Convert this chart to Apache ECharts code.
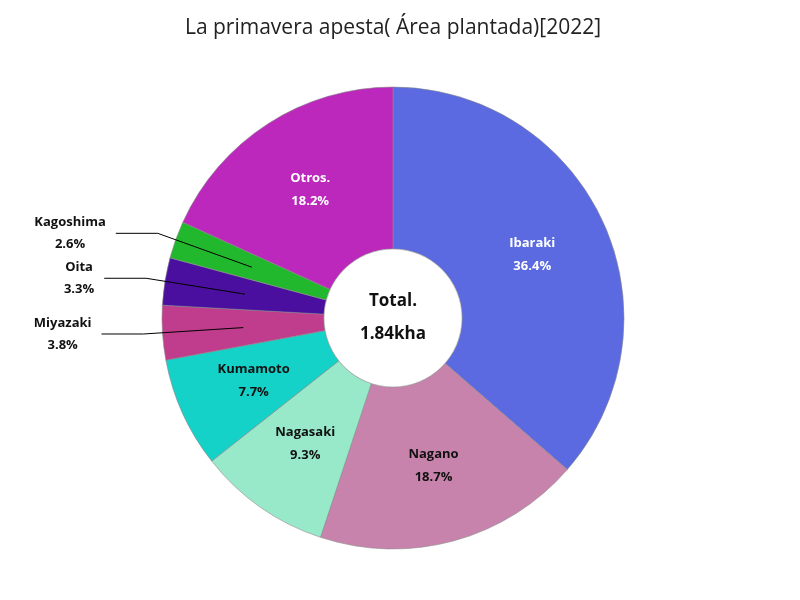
<!DOCTYPE html>
<html>
<head>
<meta charset="utf-8">
<script src="https://cdn.jsdelivr.net/npm/echarts@6/dist/echarts.min.js"></script>
<style>
  html, body { margin: 0; padding: 0; background: #fff; }
  #chart { width: 800px; height: 600px; }
</style>
</head>
<body>
<div id="chart"></div>
<script>
// Área plantada 2022 (ha): total ≈ 1.84 kha
const regions = ['Ibaraki', 'Nagano', 'Nagasaki', 'Kumamoto', 'Miyazaki', 'Oita', 'Kagoshima', 'Otros.'];
const areaHa  = [670, 344, 171, 142, 70, 61, 48, 335];
const colors  = ['#5b6ae0', '#c883ac', '#97e9c9', '#14d2c8', '#c03c8c', '#4b0fa0', '#22b82e', '#bb28bb'];
const whiteLabel = ['Ibaraki', 'Otros.'];
const outsideLabel = ['Miyazaki', 'Oita', 'Kagoshima'];

const FONT = '"Open Sans", "Noto Sans", sans-serif';
const total = areaHa.reduce((a, b) => a + b, 0);
const pct = v => (v / total * 100).toFixed(1) + '%';

const chart = echarts.init(document.getElementById('chart'), null, { renderer: 'canvas' });

// ── 主扇区 (inner labels) ─────────────────────────
const mainData = regions.map((name, i) => ({
  name,
  value: areaHa[i],
  itemStyle: { color: colors[i] },
  label: {
    show: !outsideLabel.includes(name),
    color: whiteLabel.includes(name) ? '#ffffff' : '#111111',
  },
}));

// ── 外部ラベル用の透明な扇 (line starts at mid radius) ──
const ghostData = regions.map((name, i) => ({
  name,
  value: areaHa[i],
  itemStyle: { color: 'rgba(0,0,0,0)', borderWidth: 0 },
  label: { show: outsideLabel.includes(name) },
  labelLine: { show: outsideLabel.includes(name) },
}));

const labelText = p => `{t|${p.name}}\n{t|${pct(p.value)}}`;

chart.setOption({
  backgroundColor: '#ffffff',
  animation: false,
  title: {
    text: 'La primavera apesta( Área plantada)[2022]',
    left: 388,
    top: 13,
    textAlign: 'center',
    textStyle: { fontFamily: FONT, fontSize: 21, fontWeight: 'normal', color: '#222' },
  },
  series: [
    {
      type: 'pie',
      center: [393, 318],
      radius: ['23%', '77%'],
      startAngle: 90,
      clockwise: true,
      silent: true,
      itemStyle: { borderColor: '#8a8a8a', borderWidth: 0.6 },
      label: {
        position: 'inside',
        formatter: labelText,
        fontFamily: FONT,
        fontSize: 13,
        fontWeight: 'bold',
        lineHeight: 23,
        rich: { t: { align: 'center', fontFamily: FONT, fontSize: 13, fontWeight: 'bold', lineHeight: 23 } },
      },
      labelLine: { show: false },
      data: mainData,
      z: 2,
    },
    {
      type: 'pie',
      center: [393, 318],
      radius: [0, '50%'],
      startAngle: 90,
      clockwise: true,
      silent: true,
      avoidLabelOverlap: false,
      labelLayout: { hideOverlap: false },
      label: {
        position: 'outside',
        formatter: labelText,
        fontFamily: FONT,
        fontSize: 13,
        fontWeight: 'bold',
        lineHeight: 22,
        color: '#111111',
        distanceToLabelLine: 10,
        rich: { t: { align: 'center', fontFamily: FONT, fontSize: 13, fontWeight: 'bold', lineHeight: 22, color: '#111111' } },
      },
      labelLine: {
        length: 100,
        length2: 42,
        lineStyle: { color: '#000000', width: 1 },
      },
      data: ghostData,
      z: 5,
    },
    {
      type: 'pie',
      center: [393, 318],
      radius: [0, '23%'],
      silent: true,
      itemStyle: { color: '#ffffff', borderColor: '#9a9a9a', borderWidth: 0.6 },
      label: {
        position: 'center',
        formatter: () => `Total.\n${(total / 1000).toFixed(2)}kha`,
        fontFamily: FONT,
        fontSize: 17,
        fontWeight: 'bold',
        lineHeight: 33,
        color: '#111111',
      },
      labelLine: { show: false },
      data: [{ name: 'Total.', value: total }],
      z: 3,
    },
  ],
});
</script>
</body>
</html>
